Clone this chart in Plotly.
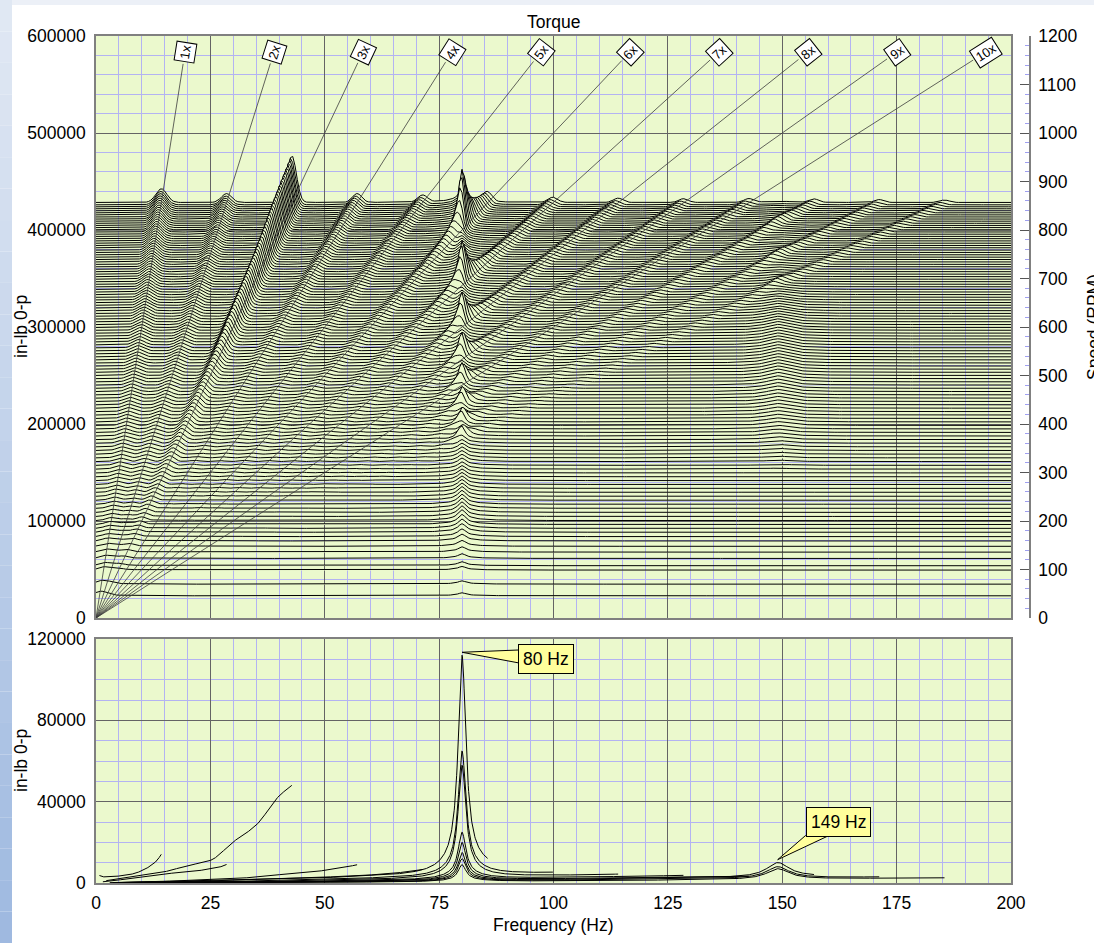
import numpy as np
import plotly.graph_objects as go

# ------------------------------------------------------------------
# Values
# ------------------------------------------------------------------
# order amplitude (in-lb 0-p) versus shaft speed, one row per order 1x..13x
RPM_PTS = [0, 100, 200, 300, 400, 500, 600, 700, 800, 856]
ORDER_AMP = [
    [4500, 3000, 3100, 3400, 3900, 4600, 6000, 8000, 11000, 14000],   # 1x
    [300, 1000, 2000, 3000, 4000, 4800, 5400, 6300, 7500, 9000],      # 2x
    [500, 2000, 3800, 5500, 8500, 11000, 20000, 28000, 42000, 47000],  # 3x
    [100, 300, 700, 1200, 1700, 2600, 4000, 5200, 7000, 8500],        # 4x
    [100, 300, 600, 1000, 1500, 2000, 2800, 3500, 4500, 5000],        # 5x
    [100, 300, 700, 1200, 1800, 2500, 3200, 4000, 5000, 5500],        # 6x
    [100, 300, 600, 1000, 1600, 2200, 2800, 3500, 4300, 4800],        # 7x
    [100, 250, 500, 900, 1400, 2000, 2600, 3200, 3800, 4200],         # 8x
    [100, 250, 500, 800, 1200, 1700, 2200, 2800, 3300, 3700],         # 9x
    [100, 200, 400, 700, 1100, 1500, 2000, 2500, 3000, 3300],         # 10x
    [100, 200, 400, 700, 1000, 1400, 1900, 2400, 2900, 3200],         # 11x
    [80, 200, 350, 600, 900, 1300, 1700, 2200, 2600, 2900],           # 12x
    [80, 150, 300, 500, 800, 1100, 1500, 1900, 2300, 2500],           # 13x
]
ORDER_WIDTH = [1.2, 1.1, 1.0, 1.0, 1.0, 1.0, 1.0, 1.0, 1.0, 1.0, 1.0, 1.0, 1.0]  # Hz

# speeds of the waterfall spectra (RPM): sparse at the start, then a spacing
# that shrinks with speed
TRACE_RPM_LOW = [45, 69, 98, 107, 122, 135, 147, 158, 167, 176, 184, 192]
SPACING_RPM = [200, 350, 500, 650, 800, 856]
SPACING_VAL = [8.5, 7.5, 6.5, 5.5, 4.5, 4.0]
TOP_RPM = 856

# broadband response at the 80 Hz and 149 Hz structural modes, per speed
B80_RPM = [0, 100, 150, 200, 250, 300, 400, 500, 600, 700, 800, 856]
B80_AMP = [2000, 3000, 5000, 9000, 8000, 6000, 6000, 7000, 8000, 8000, 8000, 10000]
B149_RPM = [0, 300, 400, 500, 600, 700, 856]
B149_AMP = [0, 800, 4000, 6500, 6000, 2500, 1500]

# waterfall gains of the modes applied to the orders
WF_GAIN80 = 8.0
BROAD_GAIN = 1.5
WF_GAIN149 = 0.7

# lower panel: resonance peak heights of the order tracks
PEAK80 = [0, 0, 0, 0, 0, 112000, 65000, 58000, 25000, 20000, 15000, 12000, 9000]
PEAK149 = [0, 0, 0, 0, 0, 0, 0, 0, 0, 0, 10000, 8000, 7000]

ORDER_LABELS = ["1x", "2x", "3x", "4x", "5x", "6x", "7x", "8x", "9x", "10x"]
LABEL_RPM = 1167
CALLOUTS = [("80 Hz", 80.0), ("149 Hz", 149.0)]

# ------------------------------------------------------------------
# Styling / geometry
# ------------------------------------------------------------------
FONT = "Liberation Sans, Arial, Helvetica, sans-serif"
BG = "#EBF9CD"
MINOR = "#B3B3F2"
MAJOR = "#646464"
FRAME = "#808080"

W, H = 1094, 943
LM, RM, TM, BM = 96, 64, 36, 60
PW, PH = W - LM - RM, H - TM - BM          # 934 x 847
XD = 915 / PW
TOP_D = [265 / PH, 1.0]
BOT_D = [0.0, 244 / PH]
PX_HZ = 915 / 200
PX_RPM = 582 / 1200
PX_AMP2 = 244 / 120000


def px_x(p):
    return (p - LM) / PW


def px_y(p):
    return (H - BM - p) / PH


def lor(f, f0, g):
    return 1.0 / (1.0 + ((f - f0) / g) ** 2)


def pchip(x, xp, yp):
    """Monotone cubic interpolation through the read points."""
    xp = np.asarray(xp, float)
    yp = np.asarray(yp, float)
    h = np.diff(xp)
    d = np.diff(yp) / h
    m = np.zeros_like(yp)
    for k in range(1, len(xp) - 1):
        if d[k - 1] * d[k] > 0:
            w1 = 2 * h[k] + h[k - 1]
            w2 = h[k] + 2 * h[k - 1]
            m[k] = (w1 + w2) / (w1 / d[k - 1] + w2 / d[k])
    m[0] = d[0]
    m[-1] = d[-1]
    x = np.clip(np.asarray(x, float), xp[0], xp[-1])
    idx = np.clip(np.searchsorted(xp, x) - 1, 0, len(xp) - 2)
    t = (x - xp[idx]) / h[idx]
    h00 = 2 * t ** 3 - 3 * t ** 2 + 1
    h10 = t ** 3 - 2 * t ** 2 + t
    h01 = -2 * t ** 3 + 3 * t ** 2
    h11 = t ** 3 - t ** 2
    return h00 * yp[idx] + h10 * h[idx] * m[idx] + h01 * yp[idx + 1] + h11 * h[idx] * m[idx + 1]


fig = go.Figure()

# ------------------------------------------------------------------
# Waterfall (back to front)
# ------------------------------------------------------------------
trace_rpm = list(TRACE_RPM_LOW)
r = SPACING_RPM[0]
while r < TOP_RPM - 2:
    trace_rpm.append(r)
    r += float(np.interp(r, SPACING_RPM, SPACING_VAL))
trace_rpm.append(TOP_RPM)

F = np.arange(0, 200.001, 0.5)
L80 = lor(F, 80, 1.0)
LB = lor(F, 80, 4.5)
L149 = lor(F, 149, 3.0)
HW = 1 + WF_GAIN80 * L80 + BROAD_GAIN * LB + WF_GAIN149 * L149

for r in trace_rpm[::-1]:
    s = np.zeros_like(F)
    for i in range(13):
        n = i + 1
        f0 = n * r / 60.0
        amp = float(pchip(r, RPM_PTS, ORDER_AMP[i]))
        s += amp * np.exp(-0.5 * ((F - f0) / ORDER_WIDTH[i]) ** 2)
    s = s * HW + 400
    s += np.interp(r, B80_RPM, B80_AMP) * (L80 + 0.25 * LB)
    s += np.interp(r, B149_RPM, B149_AMP) * L149
    base = r * 500.0
    fig.add_trace(go.Scatter(x=[0, 200], y=[base, base], mode="lines",
                             line=dict(width=0), hoverinfo="skip", showlegend=False))
    fig.add_trace(go.Scatter(x=F, y=np.round(base + s), mode="lines", fill="tonexty",
                             fillcolor=BG, line=dict(color="black", width=1),
                             hoverinfo="skip", showlegend=False))

# placeholder so the speed axis is drawn
fig.add_trace(go.Scatter(x=[0], y=[0], yaxis="y3", mode="markers",
                         marker=dict(opacity=0), hoverinfo="skip", showlegend=False))

# order lines and their labels
for n, lab in enumerate(ORDER_LABELS, 1):
    dx = n * LABEL_RPM / 60 * PX_HZ
    dy = LABEL_RPM * PX_RPM
    th = np.arctan2(dy, dx)
    half = 12 if len(lab) == 2 else 15
    r_end = LABEL_RPM - half * np.sin(th) / PX_RPM
    fig.add_trace(go.Scatter(x=[0, n * r_end / 60], y=[0, r_end], yaxis="y3", mode="lines",
                             line=dict(color="#3c3c3c", width=0.8), hoverinfo="skip",
                             showlegend=False))
    fig.add_annotation(x=n * LABEL_RPM / 60, y=LABEL_RPM, xref="x", yref="y3", text=lab,
                       textangle=-np.degrees(th), showarrow=False, bgcolor="white",
                       bordercolor="black", borderwidth=1, borderpad=2,
                       font=dict(size=13, color="black", family=FONT))

# ------------------------------------------------------------------
# Lower panel: order tracks against frequency
# ------------------------------------------------------------------
for i in range(13):
    n = i + 1
    rr = np.linspace(45, TOP_RPM, 900)
    f = n * rr / 60.0
    a = pchip(rr, RPM_PTS, ORDER_AMP[i])
    k80 = 0.0
    if PEAK80[i] > 0:
        a80 = float(pchip(80 * 60 / n, RPM_PTS, ORDER_AMP[i]))
        k80 = PEAK80[i] / a80 - 1 - BROAD_GAIN
    k149 = 0.0
    if PEAK149[i] > 0:
        a149 = float(pchip(149 * 60 / n, RPM_PTS, ORDER_AMP[i]))
        k149 = PEAK149[i] / a149 - 1
    amp = a * (1 + k80 * lor(f, 80, 1.0) + BROAD_GAIN * lor(f, 80, 4.5) + k149 * lor(f, 149, 3.0))
    fig.add_trace(go.Scatter(x=f, y=np.round(amp), xaxis="x2", yaxis="y2", mode="lines",
                             line=dict(color="black", width=1), hoverinfo="skip",
                             showlegend=False))

# callouts (box offsets and wedge attachment points in pixels from the tip)
callout_geom = {
    "80 Hz": dict(box=(84, 6.5), w1=(57, -2.3), w2=(57, 10.7)),
    "149 Hz": dict(box=(60.5, -37.8), w1=(27.7, -24), w2=(51, -24)),
}
for text, fx in CALLOUTS:
    peak = max(PEAK80) if fx == 80.0 else max(PEAK149)
    tip_y = peak + 3 / PX_AMP2
    g = callout_geom[text]
    p1 = (fx + g["w1"][0] / PX_HZ, tip_y - g["w1"][1] / PX_AMP2)
    p2 = (fx + g["w2"][0] / PX_HZ, tip_y - g["w2"][1] / PX_AMP2)
    fig.add_shape(type="path", xref="x2", yref="y2",
                  path=f"M {fx},{tip_y} L {p1[0]},{p1[1]} L {p2[0]},{p2[1]} Z",
                  fillcolor="#FFFF9C", line=dict(color="black", width=1), layer="above")
    fig.add_annotation(x=fx, y=tip_y, xref="x2", yref="y2", text=text, showarrow=False,
                       xshift=g["box"][0], yshift=-g["box"][1], bgcolor="#FFFF9C",
                       bordercolor="black", borderwidth=1, borderpad=4,
                       font=dict(size=17.5, color="black", family=FONT))

# ------------------------------------------------------------------
# Page decoration (blue strip at left / top of the page)
# ------------------------------------------------------------------
c_top = np.array([226, 233, 244])
c_bot = np.array([158, 185, 224])
nb = 30
for k in range(nb):
    y0p, y1p = H * k / nb, H * (k + 1) / nb
    c = c_top + (c_bot - c_top) * (k + 0.5) / nb
    fig.add_shape(type="rect", xref="paper", yref="paper", x0=px_x(0), x1=px_x(12),
                  y0=px_y(y1p), y1=px_y(y0p), line=dict(width=0),
                  fillcolor=f"rgb({int(c[0])},{int(c[1])},{int(c[2])})", layer="below")
fig.add_shape(type="rect", xref="paper", yref="paper", x0=px_x(12), x1=px_x(W),
              y0=px_y(5), y1=px_y(0), line=dict(width=0), fillcolor="#ECF0F7", layer="below")

# ------------------------------------------------------------------
# Titles
# ------------------------------------------------------------------
txt = dict(showarrow=False, xref="paper", yref="paper", font=dict(size=17.5, color="black", family=FONT))
fig.add_annotation(text="Torque", x=px_x(553.5), y=px_y(22), xanchor="center", yanchor="middle", **txt)
fig.add_annotation(text="in-lb 0-p", x=px_x(21), y=px_y(327), textangle=-90, xanchor="center", yanchor="middle", **txt)
fig.add_annotation(text="in-lb 0-p", x=px_x(21), y=px_y(761), textangle=-90, xanchor="center", yanchor="middle", **txt)
fig.add_annotation(text="Speed (RPM)", x=px_x(1094), y=px_y(327), textangle=-90, xanchor="center", yanchor="middle", **txt)
fig.add_annotation(text="Frequency (Hz)", x=px_x(553.5), y=px_y(925), xanchor="center", yanchor="middle", **txt)

# ------------------------------------------------------------------
# Axes / layout
# ------------------------------------------------------------------
tickfont = dict(size=17.5, color="black", family=FONT)
common = dict(showline=True, linecolor=FRAME, linewidth=1.5, mirror=True, zeroline=False,
              showgrid=True, gridcolor=MAJOR, gridwidth=1, tickfont=tickfont, ticks="")
fig.update_layout(
    width=W, height=H,
    margin=dict(l=LM, r=RM, t=TM, b=BM),
    paper_bgcolor="white", plot_bgcolor=BG,
    font=dict(family=FONT, color="black"),
    showlegend=False, hovermode=False,
    xaxis=dict(domain=[0, XD], range=[0, 200], dtick=25, anchor="y", showticklabels=False,
               minor=dict(dtick=5, showgrid=True, gridcolor=MINOR, gridwidth=1), **common),
    yaxis=dict(domain=TOP_D, range=[0, 600000], dtick=100000, tickformat="d", anchor="x",
               ticklabelstandoff=5,
               minor=dict(dtick=20000, showgrid=True, gridcolor=MINOR, gridwidth=1), **common),
    xaxis2=dict(domain=[0, XD], range=[0, 200], dtick=25, anchor="y2", ticklabelstandoff=3,
                minor=dict(dtick=5, showgrid=True, gridcolor=MINOR, gridwidth=1), **common),
    yaxis2=dict(domain=BOT_D, range=[0, 120000], dtick=40000, tickformat="d", anchor="x2",
                ticklabelstandoff=5,
                minor=dict(dtick=10000, showgrid=True, gridcolor=MINOR, gridwidth=1), **common),
    yaxis3=dict(overlaying="y", anchor="free", position=1.0, side="right", range=[0, 1200],
                dtick=100, showgrid=False, zeroline=False, ticks="inside", ticklen=9,
                tickcolor="#555555", tickwidth=1, showline=True, linecolor=FRAME, linewidth=1.5,
                tickfont=tickfont, ticklabelstandoff=4,
                minor=dict(dtick=20, ticks="inside", ticklen=4, tickcolor="#A0A0F0", showgrid=False)),
)

fig.write_html("out.html", config={"displayModeBar": False},
               post_script="document.body.style.margin='0px';")
